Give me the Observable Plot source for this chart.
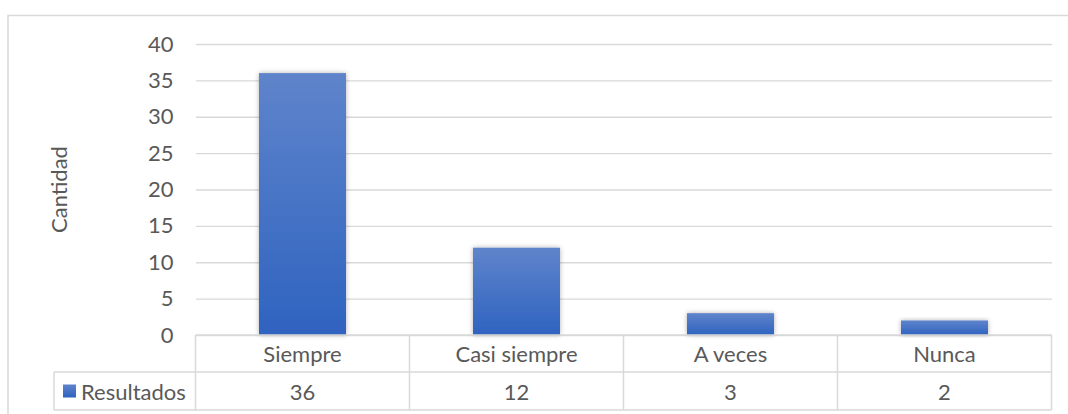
<!DOCTYPE html>
<html>
<head>
<meta charset="utf-8">
<script src="https://cdn.jsdelivr.net/npm/d3@7"></script>
<script src="https://cdn.jsdelivr.net/npm/@observablehq/plot@0.6"></script>
<style>
  html, body { margin: 0; padding: 0; background: #fff; }
  #chart { width: 1068px; height: 414px; position: relative; }
  svg { font-family: Lato, "Open Sans", sans-serif; }
</style>
</head>
<body>
<div id="chart"></div>
<script>
const categories = ["Siempre", "Casi siempre", "A veces", "Nunca"];
const values = [36, 12, 3, 2];
const seriesName = "Resultados";
const yTicks = [0, 5, 10, 15, 20, 25, 30, 35, 40];
const yTitle = "Cantidad";

const data = categories.map((c, i) => ({category: c, value: values[i]}));
const textColor = "#595959";
const lineColor = "#d9d9d9";
const fs = 22;

const plot = Plot.plot({
  width: 1068,
  height: 414,
  marginLeft: 196,
  marginRight: 16,
  marginTop: 44,
  marginBottom: 79,
  style: {fontSize: fs + "px", color: textColor, background: "#fff", overflow: "visible"},
  x: {domain: categories, paddingInner: 0.592, paddingOuter: 0.296, axis: null},
  y: {domain: [0, 40], ticks: yTicks, axis: null},
  marks: [
    Plot.gridY(yTicks, {stroke: lineColor, strokeOpacity: 1, strokeWidth: 1.3}),
    Plot.axisY(yTicks, {tickSize: 0, tickPadding: 23, fontSize: fs, fill: textColor, label: null}),
    Plot.barY(data, {x: "category", y: "value", fill: "url(#barGrad)"}),
  ]
});

const svg = d3.select(plot);
const defs = svg.insert("defs", ":first-child");
const grad = defs.append("linearGradient").attr("id", "barGrad")
  .attr("x1", 0).attr("y1", 0).attr("x2", 0).attr("y2", 1);
grad.append("stop").attr("offset", "0%").attr("stop-color", "#5f84cb");
grad.append("stop").attr("offset", "100%").attr("stop-color", "#2f63c0");
const f = defs.append("filter").attr("id", "shadow").attr("x", "-20%").attr("y", "-20%").attr("width", "140%").attr("height", "140%");
f.append("feDropShadow").attr("dx", 0).attr("dy", 0).attr("stdDeviation", 2.5).attr("flood-color", "#000").attr("flood-opacity", 0.3);
svg.selectAll("g[aria-label='bar'] rect").attr("filter", "url(#shadow)");

const xs = plot.scale("x");
const ys = plot.scale("y");
const step = xs.step;
const bw = xs.bandwidth;
const y0 = ys.apply(0);
const row1 = y0 + 37;
const row2 = row1 + 38;
const left0 = xs.apply(categories[0]) + bw / 2 - step / 2;
const rightEnd = xs.apply(categories[categories.length - 1]) + bw / 2 + step / 2;
const legendLeft = 54;

// outer chart border
svg.append("path").attr("d", `M8,414.5 V15.5 H1068`).attr("fill", "none").attr("stroke", lineColor).attr("stroke-width", 1.5);

// data table grid
const tg = svg.append("g").attr("stroke", lineColor).attr("stroke-width", 1.5).attr("fill", "none");
tg.append("line").attr("x1", left0).attr("x2", rightEnd).attr("y1", y0).attr("y2", y0);
tg.append("line").attr("x1", legendLeft).attr("x2", rightEnd).attr("y1", row1).attr("y2", row1);
tg.append("line").attr("x1", legendLeft).attr("x2", rightEnd).attr("y1", row2).attr("y2", row2);
tg.append("line").attr("x1", legendLeft).attr("x2", legendLeft).attr("y1", row1).attr("y2", row2);
for (let i = 0; i <= categories.length; i++) {
  const x = left0 + i * step;
  tg.append("line").attr("x1", x).attr("x2", x).attr("y1", y0).attr("y2", row2);
}

// table texts
const tt = svg.append("g").attr("fill", textColor).attr("font-size", fs).attr("text-anchor", "middle");
categories.forEach((c, i) => {
  const cx = xs.apply(c) + bw / 2;
  tt.append("text").attr("x", cx).attr("y", (y0 + row1) / 2 + 1).attr("dy", "0.35em").text(c);
  tt.append("text").attr("x", cx).attr("y", (row1 + row2) / 2 + 1).attr("dy", "0.35em").text(values[i]);
});
// legend key
svg.append("rect").attr("x", 63).attr("y", (row1 + row2) / 2 - 6.5).attr("width", 13).attr("height", 13).attr("fill", "url(#barGrad)");
svg.append("text").attr("x", 81).attr("y", (row1 + row2) / 2 + 1).attr("dy", "0.35em")
  .attr("text-anchor", "start").attr("fill", textColor).attr("font-size", fs).text(seriesName);

// y axis title
svg.append("text").attr("transform", `translate(67,${(ys.apply(0) + ys.apply(40)) / 2}) rotate(-90)`)
  .attr("text-anchor", "middle").attr("fill", textColor).attr("font-size", fs).text(yTitle);

document.getElementById("chart").appendChild(plot);
</script>
</body>
</html>
